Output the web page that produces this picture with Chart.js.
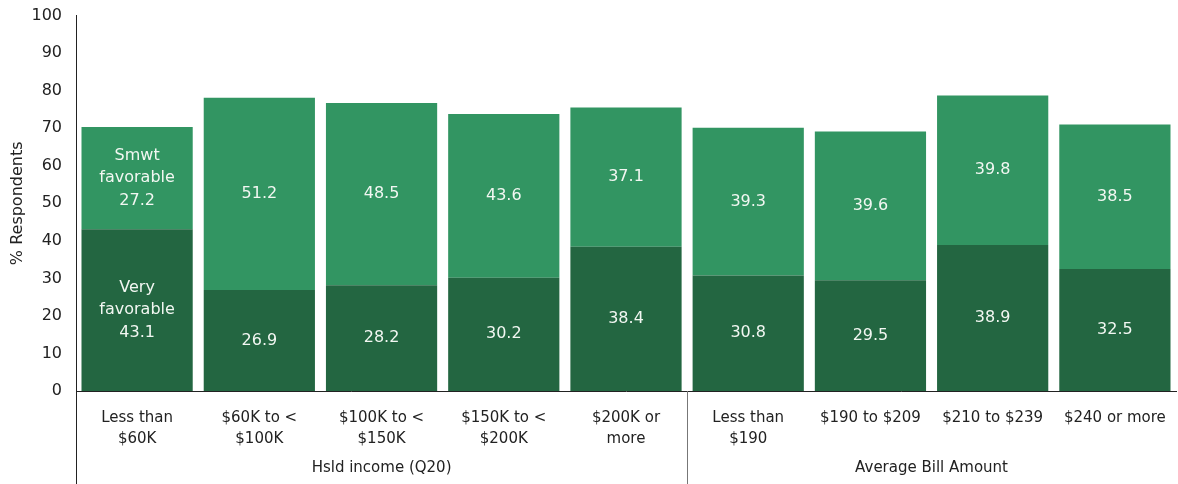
<!DOCTYPE html>
<html>
<head>
<meta charset="utf-8">
<script src="https://cdn.jsdelivr.net/npm/chart.js@4/dist/chart.umd.min.js"></script>
<style>
  html, body { margin: 0; padding: 0; background: #fff; }
  #wrap { width: 1178px; height: 484px; }
</style>
</head>
<body>
<div id="wrap"><canvas id="c" width="1178" height="484"></canvas></div>
<script>
// categories, two groups
var categories = [
    ['Less than', '$60K'], ['$60K to <', '$100K'], ['$100K to <', '$150K'],
    ['$150K to <', '$200K'], ['$200K or', 'more'],
    ['Less than', '$190'], '$190 to $209', '$210 to $239', '$240 or more'
];
var groups = ['Hsld income (Q20)', 'Average Bill Amount'];
var groupSizes = [5, 4];

var veryFav = [43.1, 26.9, 28.2, 30.2, 38.4, 30.8, 29.5, 38.9, 32.5];
var smwtFav = [27.2, 51.2, 48.5, 43.6, 37.1, 39.3, 39.6, 39.8, 38.5];

var FONT = '"DejaVu Sans", Verdana, sans-serif';
var DARK = '#236641';
var LIGHT = '#329562';

// writes the value in the middle of each segment, first bar also gets the series name
var segLabels = {
    id: 'segLabels',
    afterDatasetsDraw: function (chart) {
        var ctx = chart.ctx;
        ctx.save();
        ctx.fillStyle = '#f2f7f2';
        ctx.font = '16px ' + FONT;
        ctx.textAlign = 'center';
        ctx.textBaseline = 'middle';
        chart.data.datasets.forEach(function (ds, i) {
            var meta = chart.getDatasetMeta(i);
            meta.data.forEach(function (bar, j) {
                var v = ds.data[j];
                var lines = [v.toFixed(1)];
                if (j === 0) lines = ds.label.split(' ').concat(lines);
                var mid = (bar.y + bar.base) / 2;
                var lh = 22.5;
                var y0 = mid - (lines.length - 1) * lh / 2;
                lines.forEach(function (t, k) {
                    ctx.fillText(t, bar.x, y0 + k * lh);
                });
            });
        });
        ctx.restore();
    }
};

// group captions under the axis, with the axis line and separator carried down
var groupAxis = {
    id: 'groupAxis',
    afterDraw: function (chart) {
        var ctx = chart.ctx, area = chart.chartArea;
        var bottom = chart.height;
        var step = (area.right - area.left) / categories.length;
        ctx.save();
        ctx.strokeStyle = '#222';
        ctx.lineWidth = 1;
        ctx.beginPath();
        ctx.moveTo(area.left + 0.5, area.bottom);
        ctx.lineTo(area.left + 0.5, bottom);
        ctx.stroke();
        ctx.strokeStyle = '#777';
        var start = 0;
        ctx.fillStyle = '#222';
        ctx.font = '15px ' + FONT;
        ctx.textAlign = 'center';
        ctx.textBaseline = 'middle';
        groupSizes.forEach(function (n, g) {
            var x0 = area.left + start * step;
            var x1 = x0 + n * step;
            ctx.fillText(groups[g], (x0 + x1) / 2, 468);
            if (g > 0) {
                ctx.beginPath();
                ctx.moveTo(Math.round(x0) + 0.5, area.bottom);
                ctx.lineTo(Math.round(x0) + 0.5, bottom);
                ctx.stroke();
            }
            start += n;
        });
        ctx.restore();
    }
};

new Chart(document.getElementById('c'), {
    type: 'bar',
    data: {
        labels: categories,
        datasets: [
            { label: 'Very favorable', data: veryFav, backgroundColor: DARK },
            { label: 'Smwt favorable', data: smwtFav, backgroundColor: LIGHT }
        ]
    },
    options: {
        responsive: false,
        animation: false,
        layout: { padding: { top: 9, right: 2 } },
        categoryPercentage: 1,
        barPercentage: 0.91,
        plugins: {
            legend: { display: false },
            tooltip: { enabled: false }
        },
        scales: {
            x: {
                stacked: true,
                grid: { display: false },
                border: { display: true, color: '#222', width: 1 },
                ticks: { color: '#222', font: { family: FONT, size: 15, lineHeight: 1.4 }, padding: 9, maxRotation: 0, autoSkip: false },
                afterFit: function (s) { s.height = 93; }
            },
            y: {
                stacked: true,
                min: 0,
                max: 100,
                grid: { display: false },
                border: { display: true, color: '#222', width: 1 },
                ticks: { stepSize: 10, color: '#222', font: { family: FONT, size: 16 }, padding: 6 },
                title: { display: true, text: '% Respondents', color: '#222', font: { family: FONT, size: 16 }, padding: { top: 8, bottom: 0 } },
                afterFit: function (s) { s.width = 76; }
            }
        }
    },
    plugins: [segLabels, groupAxis]
});
</script>
</body>
</html>
